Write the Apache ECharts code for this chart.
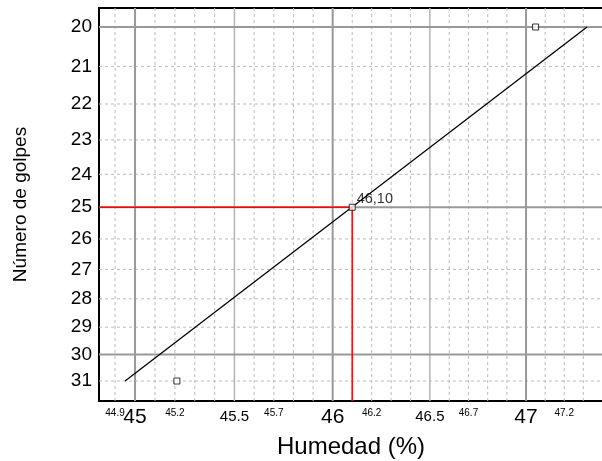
<!DOCTYPE html>
<html><head><meta charset="utf-8">
<script src="https://cdn.jsdelivr.net/npm/echarts@6/dist/echarts.min.js"></script>
<style>html,body{margin:0;padding:0;background:#fff}#c{width:602px;height:461px}</style>
</head><body><div id="c"></div>
<script>
// ---- data (log-log chart: Humedad vs Número de golpes) ----
const xMainLabelValues = [45, 45.5, 46, 46.5, 47];
const xSmallLabelValues = [44.9, 45.2, 45.7, 46.2, 46.7, 47.2];
const yLabelValues = [20, 21, 22, 23, 24, 25, 26, 27, 28, 29, 30, 31];
const xMajorGrid = [45, 46, 47];
const xHalfGrid = [45.5, 46.5];
const xMinorGrid = [44.9, 45.1, 45.2, 45.3, 45.4, 45.6, 45.7, 45.8, 45.9, 46.1, 46.2, 46.3, 46.4, 46.6, 46.7, 46.8, 46.9, 47.1, 47.2, 47.3];
const yMajorGrid = [20, 25, 30];
const yMinorGrid = [21, 22, 23, 24, 26, 27, 28, 29, 31];
const xRange = [44.82, 47.404];
const yRange = [19.535, 31.776];
const samplePoints = [[47.05, 20], [46.10, 25], [45.21, 31]];
const fitLine = [[44.95, 31], [47.32, 20]];
const reading = [46.10, 25];
const readingLabel = '46,10';
const xName = 'Humedad (%)';
const yName = 'Número de golpes';

const L = Math.log10;
const FONT = "'Liberation Sans', Arial, sans-serif";
const P = ([x, y]) => [L(x), L(y)];

const majorStyle = { color: '#999', width: 2, type: 'solid' };
const halfStyle = { color: '#b4b4b4', width: 1.5, type: 'solid' };
const minorStyle = { color: '#bbb', width: 1, type: [3, 3] };

const gridSeries = [];
function vLine(v, style) {
  gridSeries.push({ type: 'line', silent: true, z: 1, symbol: 'none', lineStyle: style,
    data: [P([v, yRange[0]]), P([v, yRange[1]])] });
}
function hLine(v, style) {
  gridSeries.push({ type: 'line', silent: true, z: 1, symbol: 'none', lineStyle: style,
    data: [P([xRange[0], v]), P([xRange[1], v])] });
}
xMinorGrid.forEach(v => vLine(v, minorStyle));
yMinorGrid.forEach(v => hLine(v, minorStyle));
xHalfGrid.forEach(v => vLine(v, halfStyle));
xMajorGrid.forEach(v => vLine(v, majorStyle));
yMajorGrid.forEach(v => hLine(v, majorStyle));

const guide = [[xRange[0], reading[1]], reading, [reading[0], yRange[1]]];

const toX = v => Math.round(Math.pow(10, v) * 10) / 10;
const baseX = {
  type: 'value', position: 'bottom', min: L(xRange[0]), max: L(xRange[1]),
  axisLine: { show: false }, axisTick: { show: false }, splitLine: { show: false }
};

const chart = echarts.init(document.getElementById('c'), null, { renderer: 'canvas' });
chart.setOption({
  animation: false,
  backgroundColor: '#fff',
  textStyle: { fontFamily: FONT },
  grid: { left: 99, top: 8, right: -1, bottom: 60, containLabel: false, outerBoundsMode: 'none',
          show: true, borderColor: '#000', borderWidth: 2, backgroundColor: 'transparent' },
  xAxis: [
    Object.assign({}, baseX, {
      name: xName, nameLocation: 'middle', nameGap: 34,
      nameTextStyle: { fontSize: 24, color: '#000', fontFamily: FONT },
      axisLabel: {
        customValues: xMainLabelValues.map(L), margin: 4, color: '#000', fontFamily: FONT,
        hideOverlap: false,
        formatter: v => {
          const r = toX(v);
          return Math.abs(r - Math.round(r)) < 1e-6 ? '{a|' + Math.round(r) + '}' : '{b|' + r.toFixed(1) + '}';
        },
        rich: {
          a: { fontSize: 21, lineHeight: 24, color: '#000', fontFamily: FONT },
          b: { fontSize: 15, lineHeight: 24, color: '#000', fontFamily: FONT }
        }
      }
    }),
    Object.assign({}, baseX, {
      axisLabel: {
        customValues: xSmallLabelValues.map(L), margin: 4, color: '#000', fontFamily: FONT,
        hideOverlap: false,
        formatter: v => '{c|' + toX(v).toFixed(1) + '}',
        rich: { c: { fontSize: 10, lineHeight: 17, color: '#000', fontFamily: FONT } }
      }
    })
  ],
  yAxis: {
    type: 'value', min: L(yRange[0]), max: L(yRange[1]), inverse: true,
    name: yName, nameLocation: 'middle', nameGap: 69, nameRotate: 90,
    nameTextStyle: { fontSize: 19, color: '#000', fontFamily: FONT },
    axisLine: { show: false }, axisTick: { show: false }, splitLine: { show: false },
    axisLabel: {
      customValues: yLabelValues.map(L), margin: 7, color: '#000', fontSize: 19, fontFamily: FONT,
      hideOverlap: false,
      formatter: v => String(Math.round(Math.pow(10, v)))
    }
  },
  series: gridSeries.concat([
    {
      type: 'line', data: guide.map(P), z: 3, symbol: 'none', silent: true,
      lineStyle: { color: '#ff0000', width: 1.5 }
    },
    {
      type: 'line', data: fitLine.map(P), z: 4, symbol: 'none', silent: true,
      lineStyle: { color: '#000', width: 1.3 }
    },
    {
      type: 'scatter', z: 5, symbol: 'rect', symbolSize: 6,
      itemStyle: { color: '#fff', borderColor: '#000', borderWidth: 1 },
      data: samplePoints.map(p => {
        const isReading = p[0] === reading[0] && p[1] === reading[1];
        return isReading
          ? { value: P(p), label: { show: true, formatter: readingLabel, position: 'right', distance: 1, offset: [0, -8.5], fontSize: 14.5, color: '#000', fontFamily: FONT } }
          : { value: P(p) };
      })
    }
  ])
});
</script>
</body></html>
